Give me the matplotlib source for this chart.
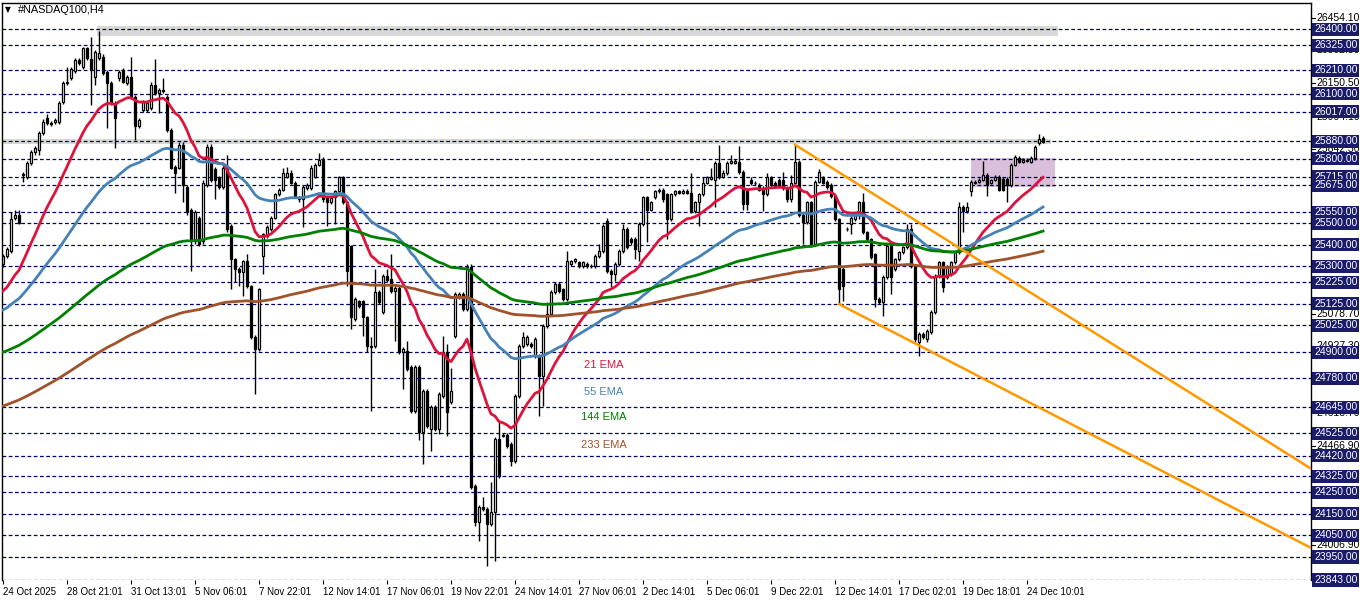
import numpy as np
import matplotlib
matplotlib.use("Agg")
import matplotlib.pyplot as plt
from matplotlib.patches import Rectangle
from matplotlib.transforms import blended_transform_factory

plt.rcParams['font.family'] = ['Liberation Sans', 'DejaVu Sans']

# H4 candles, 24 Oct 2025 -> 24 Dec 2025
opens = [
    25309, 25346, 25369, 25522, 25540, 25725, 25716, 25781, 25832, 25841,
    25920, 25989, 25966, 25971, 25971, 26063, 26151, 26175, 26207, 26258,
    26225, 26313, 26263, 26179, 26267, 26272, 26202, 26151, 26059, 26175,
    26212, 26151, 26179, 26087, 25952, 26026, 26026, 26036, 26142, 26105,
    26119, 26087, 25934, 25762, 25758, 25864, 25670, 25563, 25415, 25526,
    25415, 25679, 25855, 25749, 25712, 25670, 25758, 25485, 25332, 25286,
    25272, 25323, 25207, 24971, 24915, 25346, 25438, 25471, 25526, 25633,
    25656, 25716, 25735, 25688, 25619, 25610, 25665, 25665, 25716, 25772,
    25795, 25619, 25600, 25619, 25647, 25712, 25596, 25392, 25054, 25137,
    25137, 25063, 24929, 24929, 25179, 25086, 25253, 25239, 25184, 25198,
    24901, 24906, 24832, 24628, 24832, 24531, 24721, 24545, 24647, 24545,
    24698, 24901, 24670, 24975, 25156, 25170, 25100, 25295, 24281, 24114,
    24184, 24174, 24105, 24160, 24498, 24516, 24516, 24475, 24397, 24698,
    24929, 24938, 24938, 24883, 24883, 24790, 25022, 25077, 25179, 25216,
    25193, 25147, 25309, 25323, 25318, 25300, 25309, 25300, 25300, 25346,
    25369, 25508, 25276, 25263, 25309, 25369, 25471, 25425, 25425, 25369,
    25494, 25619, 25563, 25619, 25647, 25656, 25633, 25517, 25633, 25647,
    25642, 25651, 25642, 25554, 25596, 25633, 25688, 25707, 25702, 25781,
    25716, 25735, 25781, 25781, 25786, 25739, 25656, 25702, 25688, 25679,
    25665, 25633, 25712, 25688, 25702, 25698, 25665, 25610, 25688, 25786,
    25540, 25503, 25596, 25401, 25693, 25712, 25693, 25679, 25624, 25517,
    25286, 25475, 25494, 25517, 25540, 25596, 25457, 25425, 25355, 25147,
    25133, 25249, 25392, 25286, 25332, 25364, 25387, 25471, 25300, 24948,
    24985, 24962, 24994, 25086, 25253, 25318, 25249, 25263, 25318, 25364,
    25573, 25554, 25647, 25693, 25693, 25702, 25725, 25688, 25702, 25716,
    25707, 25707, 25679, 25772, 25804, 25786, 25795, 25786, 25804, 25871,
    25896,
]
highs = [
    25355, 25387, 25550, 25559, 25559, 25739, 25790, 25841, 25860, 25929,
    25985, 26008, 25975, 25990, 26068, 26160, 26225, 26225, 26265, 26268,
    26320, 26318, 26364, 26305, 26392, 26285, 26212, 26160, 26068, 26212,
    26220, 26188, 26272, 26095, 25990, 26072, 26068, 26156, 26263, 26128,
    26175, 26095, 25940, 25770, 25875, 25875, 25679, 25570, 25560, 25535,
    25698, 25868, 25868, 25760, 25720, 25765, 25818, 25495, 25340, 25295,
    25330, 25355, 25215, 24980, 25200, 25455, 25490, 25535, 25640, 25665,
    25758, 25762, 25745, 25695, 25628, 25678, 25688, 25768, 25780, 25827,
    25805, 25628, 25625, 25655, 25720, 25720, 25605, 25400, 25155, 25145,
    25145, 25070, 24971, 25286, 25188, 25262, 25286, 25355, 25207, 25207,
    24925, 24952, 24840, 24840, 24840, 24730, 24730, 24655, 24655, 24715,
    24975, 24938, 24827, 25180, 25180, 25178, 25309, 25309, 24290, 24192,
    24230, 24182, 24300, 24508, 24577, 24525, 24525, 24483, 24706, 24938,
    24994, 24980, 24948, 24970, 24890, 25030, 25133, 25188, 25225, 25225,
    25200, 25369, 25330, 25340, 25326, 25326, 25318, 25310, 25355, 25401,
    25494, 25526, 25285, 25318, 25378, 25494, 25480, 25435, 25435, 25503,
    25628, 25628, 25605, 25655, 25665, 25665, 25642, 25642, 25655, 25655,
    25660, 25660, 25735, 25605, 25642, 25712, 25720, 25754, 25790, 25864,
    25745, 25790, 25818, 25800, 25860, 25745, 25665, 25712, 25695, 25688,
    25672, 25735, 25720, 25695, 25710, 25739, 25672, 25725, 25864, 25795,
    25550, 25605, 25605, 25702, 25750, 25720, 25700, 25688, 25630, 25525,
    25295, 25480, 25535, 25550, 25605, 25642, 25465, 25432, 25362, 25155,
    25258, 25400, 25400, 25340, 25372, 25395, 25494, 25494, 25308, 24995,
    24995, 25008, 25095, 25262, 25326, 25326, 25305, 25326, 25372, 25596,
    25582, 25596, 25702, 25700, 25710, 25790, 25732, 25705, 25725, 25725,
    25715, 25715, 25780, 25818, 25812, 25803, 25803, 25812, 25864, 25915,
    25905,
]
lows = [
    25295, 25337, 25360, 25513, 25494, 25693, 25707, 25772, 25818, 25818,
    25910, 25957, 25950, 25962, 25962, 26055, 26142, 26165, 26198, 26235,
    26216, 26258, 26050, 26142, 26258, 26190, 25943, 26050, 25850, 26160,
    26150, 26142, 26078, 25888, 25940, 26015, 26015, 26026, 26095, 26013,
    26105, 25925, 25750, 25642, 25750, 25596, 25540, 25276, 25405, 25395,
    25405, 25670, 25690, 25610, 25660, 25660, 25460, 25193, 25225, 25207,
    25161, 25200, 24960, 24707, 24905, 25263, 25430, 25463, 25518, 25625,
    25648, 25708, 25680, 25615, 25600, 25480, 25655, 25655, 25708, 25765,
    25600, 25485, 25590, 25494, 25640, 25587, 25207, 25008, 25045, 25105,
    24975, 24901, 24628, 24920, 25125, 25077, 25225, 25175, 24952, 24890,
    24730, 24815, 24620, 24620, 24493, 24383, 24550, 24443, 24535, 24522,
    24690, 24512, 24660, 24965, 25147, 25090, 25090, 24265, 24095, 24022,
    24165, 23906, 24095, 23929, 24318, 24505, 24458, 24370, 24388, 24690,
    24920, 24930, 24920, 24875, 24605, 24650, 25015, 25070, 25170, 25175,
    25138, 25138, 25300, 25315, 25292, 25292, 25292, 25292, 25292, 25340,
    25360, 25268, 25202, 25230, 25300, 25360, 25378, 25400, 25332, 25323,
    25485, 25411, 25555, 25610, 25640, 25600, 25425, 25508, 25625, 25635,
    25635, 25635, 25545, 25545, 25485, 25625, 25680, 25700, 25577, 25707,
    25708, 25725, 25775, 25775, 25730, 25563, 25563, 25675, 25675, 25648,
    25554, 25625, 25670, 25665, 25670, 25655, 25600, 25600, 25680, 25530,
    25401, 25495, 25392, 25392, 25685, 25680, 25660, 25615, 25508, 25124,
    25137, 25463, 25448, 25508, 25517, 25448, 25415, 25332, 25110, 25125,
    25068, 25240, 25170, 25278, 25325, 25355, 25378, 25292, 24950, 24883,
    24960, 24950, 24985, 25077, 25245, 25180, 25240, 25255, 25310, 25355,
    25457, 25545, 25624, 25680, 25685, 25695, 25624, 25680, 25695, 25648,
    25648, 25600, 25670, 25765, 25778, 25778, 25782, 25778, 25795, 25862,
    25870,
]
closes = [
    25346, 25378, 25517, 25540, 25499, 25728, 25781, 25832, 25850, 25920,
    25971, 25966, 25962, 25980, 26059, 26151, 26156, 26216, 26258, 26244,
    26313, 26267, 26212, 26295, 26290, 26198, 26151, 26063, 25989, 26202,
    26156, 26179, 26087, 25952, 25980, 26063, 26059, 26142, 26105, 26119,
    26115, 25934, 25758, 25735, 25864, 25679, 25550, 25415, 25550, 25401,
    25688, 25855, 25702, 25702, 25670, 25758, 25471, 25332, 25286, 25272,
    25323, 25207, 24971, 24915, 25193, 25448, 25480, 25526, 25633, 25656,
    25735, 25735, 25688, 25624, 25610, 25670, 25679, 25758, 25772, 25795,
    25610, 25600, 25615, 25647, 25712, 25596, 25276, 25063, 25147, 25114,
    25063, 24929, 24925, 25179, 25133, 25253, 25235, 25184, 25198, 24901,
    24915, 24823, 24628, 24832, 24531, 24721, 24559, 24647, 24545, 24707,
    24901, 24624, 24721, 25170, 25170, 25100, 25295, 24276, 24114, 24184,
    24174, 24105, 24160, 24498, 24327, 24512, 24466, 24397, 24698, 24929,
    24971, 24971, 24929, 24962, 24790, 25022, 25077, 25179, 25216, 25184,
    25147, 25323, 25323, 25332, 25300, 25318, 25300, 25302, 25346, 25369,
    25485, 25276, 25263, 25309, 25369, 25471, 25387, 25411, 25378, 25494,
    25619, 25563, 25596, 25647, 25656, 25610, 25517, 25633, 25647, 25642,
    25651, 25642, 25554, 25596, 25633, 25688, 25712, 25712, 25781, 25716,
    25735, 25781, 25790, 25790, 25739, 25587, 25587, 25684, 25684, 25656,
    25633, 25712, 25679, 25674, 25679, 25665, 25610, 25688, 25786, 25540,
    25503, 25596, 25401, 25693, 25739, 25688, 25670, 25624, 25517, 25193,
    25207, 25471, 25526, 25540, 25596, 25457, 25425, 25341, 25147, 25133,
    25249, 25392, 25249, 25332, 25364, 25387, 25471, 25300, 24962, 24985,
    24971, 24999, 25086, 25253, 25318, 25202, 25295, 25318, 25364, 25573,
    25554, 25577, 25693, 25688, 25702, 25725, 25679, 25698, 25716, 25656,
    25656, 25679, 25772, 25809, 25786, 25795, 25790, 25804, 25855, 25892,
    25878,
]
assert len(opens) == len(highs) == len(lows) == len(closes)

# EMA periods and their values at the first visible bar
ema_periods = [21, 55, 144, 233]
ema_start = [25185, 25097, 24901, 24651]
ema_colors = ['#dc143c', '#4682b4', '#008000', '#a0522d']
ema_names = ['21 EMA', '55 EMA', '144 EMA', '233 EMA']
ema_label_prices = [24841, 24717, 24599, 24472]

# horizontal levels (right-axis highlighted labels)
levels = [26400, 26325, 26210, 26100, 26017, 25880, 25800, 25715, 25675,
          25550, 25500, 25400, 25300, 25225, 25125, 25025, 24900, 24780,
          24645, 24525, 24420, 24325, 24250, 24150, 24050, 23950, 23843]
scale_ticks = [26454.10, 26302.50, 26150.50, 25994.10, 25842.30, 25690.50,
               25538.70, 25386.90, 25230.50, 25078.70, 24927.30, 24770.10,
               24618.70, 24466.90, 24315.10, 24158.70, 24006.90]

xlabels = ['24 Oct 2025', '28 Oct 21:01', '31 Oct 13:01', '5 Nov 06:01',
           '7 Nov 22:01', '12 Nov 14:01', '17 Nov 06:01', '19 Nov 22:01',
           '24 Nov 14:01', '27 Nov 06:01', '2 Dec 14:01', '5 Dec 06:01',
           '9 Dec 22:01', '12 Dec 14:01', '17 Dec 02:01', '19 Dec 18:01',
           '24 Dec 10:01']
xlabel_step = 16

# zones: (bar from, bar to, price low, price high)
gray_zones = [(23.5, 263.75, 26370, 26415), (-0.25, 262, 25866, 25892)]
purple_zone = (242, 263, 25669, 25803)

# channel trendlines (bar, price)
upper_line = ([198, 327], [25864, 24360])
lower_line = ([209, 327], [25124, 23992])


def ema(values, period, seed):
    k = 2.0 / (period + 1)
    out = [seed]
    for v in values[1:]:
        out.append(out[-1] + k * (v - out[-1]))
    return np.array(out)


W, H = 1362, 603
fig = plt.figure(figsize=(W / 100, H / 100), dpi=100)
ax = fig.add_axes([2 / W, (H - 580) / H, 1309 / W, 577 / H])
ax.set_xlim(-0.25, 327)
ax.set_ylim(23843, 26522)

o = np.array(opens, float)
h = np.array(highs, float)
l = np.array(lows, float)
c = np.array(closes, float)
x = np.arange(len(c))

# zones
for x0, x1, p0, p1 in gray_zones:
    ax.add_patch(Rectangle((x0, p0), x1 - x0, p1 - p0, fc='#d8d8d8', ec='none', zorder=0.5))
x0, x1, p0, p1 = purple_zone
ax.add_patch(Rectangle((x0, p0), x1 - x0, p1 - p0, fc='#d9bfd9', ec='none', zorder=0.6))

# dashed levels
for lv in levels:
    ax.axhline(lv, color='#000066', lw=0.9, dashes=(3, 2), zorder=1)

# candles
ax.vlines(x, l, h, color='black', lw=1, zorder=2)
up = c >= o
bottom = np.minimum(o, c)
height = np.maximum(np.abs(c - o), 3)
ax.bar(x[up], height[up], bottom=bottom[up], width=0.72, color='white',
       edgecolor='black', lw=0.9, zorder=2.1)
ax.bar(x[~up], height[~up], bottom=bottom[~up], width=0.72, color='black',
       edgecolor='black', lw=0.9, zorder=2.1)

# EMAs
for per, seed, col in zip(ema_periods, ema_start, ema_colors):
    ax.plot(x, ema(c, per, seed), color=col, lw=2, zorder=3)

for name, p, col in zip(ema_names, ema_label_prices, ema_colors):
    ax.text(150.1, p, name, color=col, fontsize=8, ha='center', va='center', zorder=4)

# channel
ax.plot(*upper_line, color='#ff9900', lw=1.8, zorder=4)
ax.plot(*lower_line, color='#ff9900', lw=1.8, zorder=4)

# right price scale
tr = blended_transform_factory(ax.transAxes, ax.transData)
for v in scale_ticks:
    ax.plot([1, 1 + 4 / 1309], [v, v], transform=tr, color='black', lw=0.8, clip_on=False)
    ax.text(1 + 5 / 1309, v, f"{v:.2f}", transform=tr, fontsize=7.5, color='black',
            ha='left', va='center', clip_on=False, zorder=5)
for v in levels:
    ax.text(1 + 3 / 1309, v, f"{v:.2f}", transform=tr, fontsize=7.5, color='white',
            ha='left', va='center', clip_on=False, zorder=6,
            bbox=dict(boxstyle='square,pad=0.15', fc='#1b1b6b', ec='none'))

ax.set_yticks([])
ax.set_xticks(np.arange(len(xlabels)) * xlabel_step)
ax.set_xticklabels(xlabels, ha='left', fontsize=7)
ax.tick_params(axis='x', direction='out', length=3, width=0.8, pad=2)
ax.spines['bottom'].set_visible(False)
for s in ['left', 'top', 'right']:
    ax.spines[s].set_linewidth(1)

fig.text(5 / W, 1 - 10 / H, '\u25bc', fontsize=5.5, family='DejaVu Sans', va='center')
fig.text(18 / W, 1 - 10 / H, '#NASDAQ100,H4', fontsize=7.8, va='center')

fig.savefig('out.png', dpi=100, facecolor='white')
